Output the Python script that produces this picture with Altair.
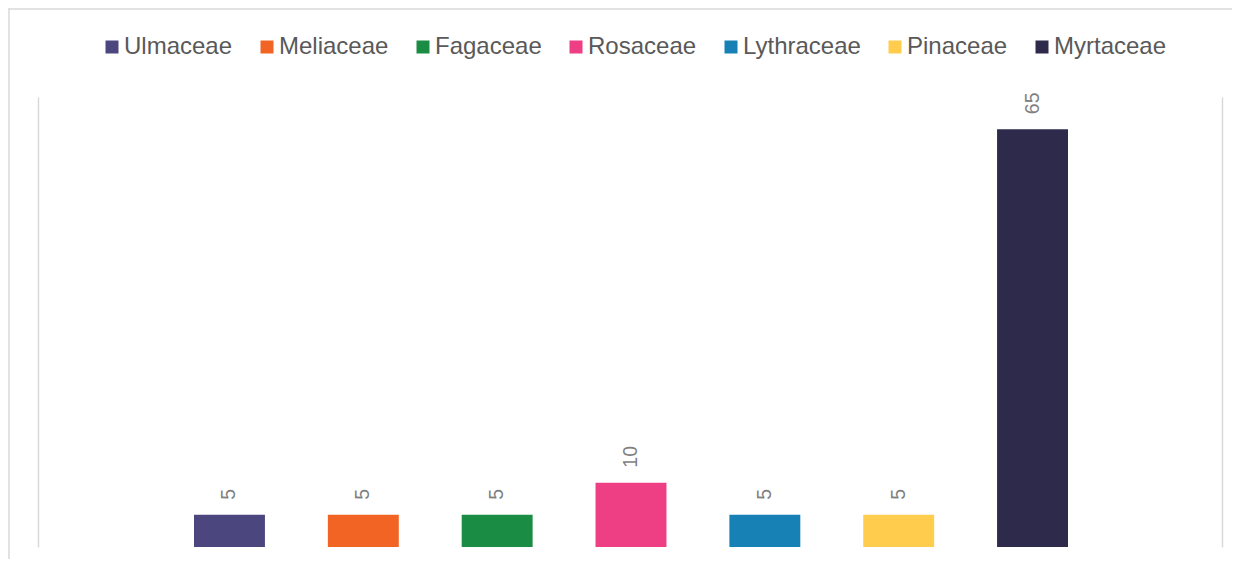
import altair as alt
import pandas as pd

families = ["Ulmaceae", "Meliaceae", "Fagaceae", "Rosaceae", "Lythraceae", "Pinaceae", "Myrtaceae"]
counts = [5, 5, 5, 10, 5, 5, 65]
colors = ["#4B467E", "#F26423", "#1B8C43", "#EE3F85", "#1780B4", "#FFCC4D", "#2E2A4B"]

df = pd.DataFrame({"family": families, "count": counts})

W, H = 1184, 450

x = alt.X("family:N", sort=families, axis=None,
          scale=alt.Scale(range=[156, 1030], paddingInner=0.47, paddingOuter=0))
y_scale = alt.Scale(domain=[0, 70], nice=False, zero=True)
color = alt.Color("family:N", sort=families,
                  scale=alt.Scale(domain=families, range=colors),
                  legend=alt.Legend(orient="none", direction="horizontal", title=None,
                                    legendX=62, legendY=-62,
                                    symbolType="square", symbolSize=169,
                                    symbolStrokeWidth=0, symbolOpacity=1,
                                    labelFont="Liberation Sans", labelFontSize=24,
                                    labelColor="#595959", labelOffset=0,
                                    columnPadding=22, columns=7))

bars = alt.Chart(df).mark_bar().encode(
    x=x,
    y=alt.Y("count:Q", scale=y_scale,
            axis=alt.Axis(orient="left", domain=True, domainColor="#d9d9d9", domainWidth=1.5,
                          ticks=False, labels=False, grid=False, title=None)),
    color=color,
)

labels = alt.Chart(df).mark_text(
    angle=270, align="left", baseline="middle", dx=15,
    font="Liberation Sans", fontSize=19.5, color="#7f7f7f"
).encode(
    x=x,
    y=alt.Y("count:Q", scale=y_scale,
            axis=alt.Axis(orient="right", domain=True, domainColor="#d9d9d9", domainWidth=1.5,
                          ticks=False, labels=False, grid=False, title=None)),
    text=alt.Text("count:Q"),
)

frame_df = pd.DataFrame({"k": [0]})
frame_left = alt.Chart(frame_df).mark_rule(color="#d9d9d9", strokeWidth=1.5).encode(
    x=alt.value(-29), y=alt.value(-89), y2=alt.value(600))
frame_top = alt.Chart(frame_df).mark_rule(color="#d9d9d9", strokeWidth=1.5).encode(
    x=alt.value(-29), x2=alt.value(1300), y=alt.value(-88))

chart = alt.layer(bars, labels, frame_left, frame_top).resolve_axis(y="independent").properties(
    width=W, height=H,
    padding={"left": 30, "top": 89, "right": 10, "bottom": 12},
    autosize=alt.AutoSizeParams(type="none"),
).configure_view(stroke=None)

chart.save("out.html", embed_options={"renderer": "svg", "actions": False})
